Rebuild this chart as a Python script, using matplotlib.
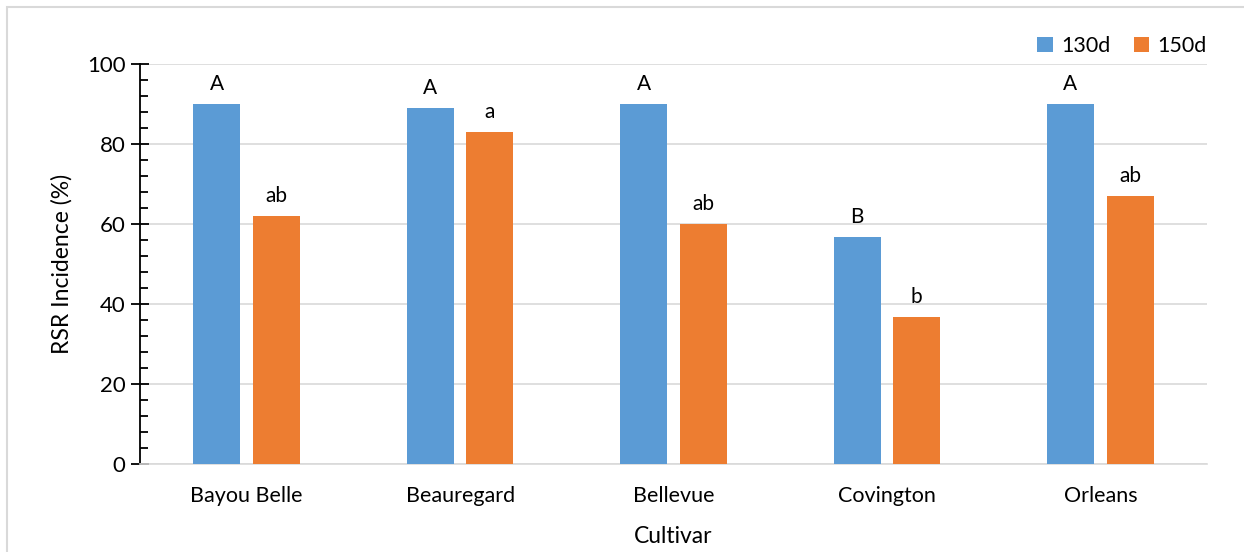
import matplotlib
matplotlib.use("Agg")
import matplotlib.pyplot as plt
import numpy as np
from matplotlib.ticker import MultipleLocator
from matplotlib.patches import Rectangle

cultivars = ["Bayou Belle", "Beauregard", "Bellevue", "Covington", "Orleans"]
d130 = [90, 89, 90, 56.7, 90]
d150 = [62, 83, 60, 36.7, 67]
letters130 = ["A", "A", "A", "B", "A"]
letters150 = ["ab", "a", "ab", "b", "ab"]
series_names = ["130d", "150d"]

plt.rcParams['font.family'] = ['Lato', 'DejaVu Sans']
blue = "#5B9BD5"
orange = "#ED7D31"

fig = plt.figure(figsize=(12.44, 5.52), dpi=100)
ax = fig.add_axes([0.1125, 0.1594, 0.8578, 0.7238])

x = np.arange(len(cultivars))
w = 0.22
off = 0.14
ax.bar(x - off, d130, w, color=blue, label=series_names[0], zorder=3)
ax.bar(x + off, d150, w, color=orange, label=series_names[1], zorder=3)

for xi, v, t in zip(x, d130, letters130):
    ax.text(xi - off, v + 2.5, t, ha="center", va="bottom", fontsize=15, color="black")
for xi, v, t in zip(x, d150, letters150):
    ax.text(xi + off, v + 2.5, t, ha="center", va="bottom", fontsize=15, color="black")

ax.set_xlim(-0.5, len(cultivars) - 0.5)
ax.set_ylim(0, 100)
ax.yaxis.set_major_locator(MultipleLocator(20))
ax.yaxis.set_minor_locator(MultipleLocator(4))
ax.set_xticks(x)
ax.set_xticklabels(cultivars, fontsize=15.5)
ax.tick_params(axis="x", length=0, pad=16)
ax.tick_params(axis="y", which="major", direction="inout", length=13, width=1.3, labelsize=16, pad=4)
ax.tick_params(axis="y", which="minor", direction="in", length=6, width=1.3)
ax.grid(axis="y", which="major", color="#D9D9D9", linewidth=1.2, zorder=0)
for s in ["top", "right"]:
    ax.spines[s].set_visible(False)
ax.spines["left"].set_linewidth(1.3)
ax.spines["bottom"].set_color("#D9D9D9")
ax.spines["bottom"].set_linewidth(1.2)
ax.set_ylabel("RSR Incidence (%)", fontsize=16.5, labelpad=10)
ax.set_xlabel("Cultivar", fontsize=16.5, labelpad=14)

ax.legend(loc="lower right", bbox_to_anchor=(1.008, 1.0), ncol=2, frameon=False,
          fontsize=15.5, handlelength=0.7, handleheight=0.7, handletextpad=0.4,
          columnspacing=1.1, borderaxespad=0.0)

# chart area border
fig.patches.append(Rectangle((7/1244, -0.01), 1.2, 1 - 7/552 + 0.01, transform=fig.transFigure,
                             fill=False, edgecolor="#D9D9D9", linewidth=1.5))

fig.savefig("out.png", dpi=100)
